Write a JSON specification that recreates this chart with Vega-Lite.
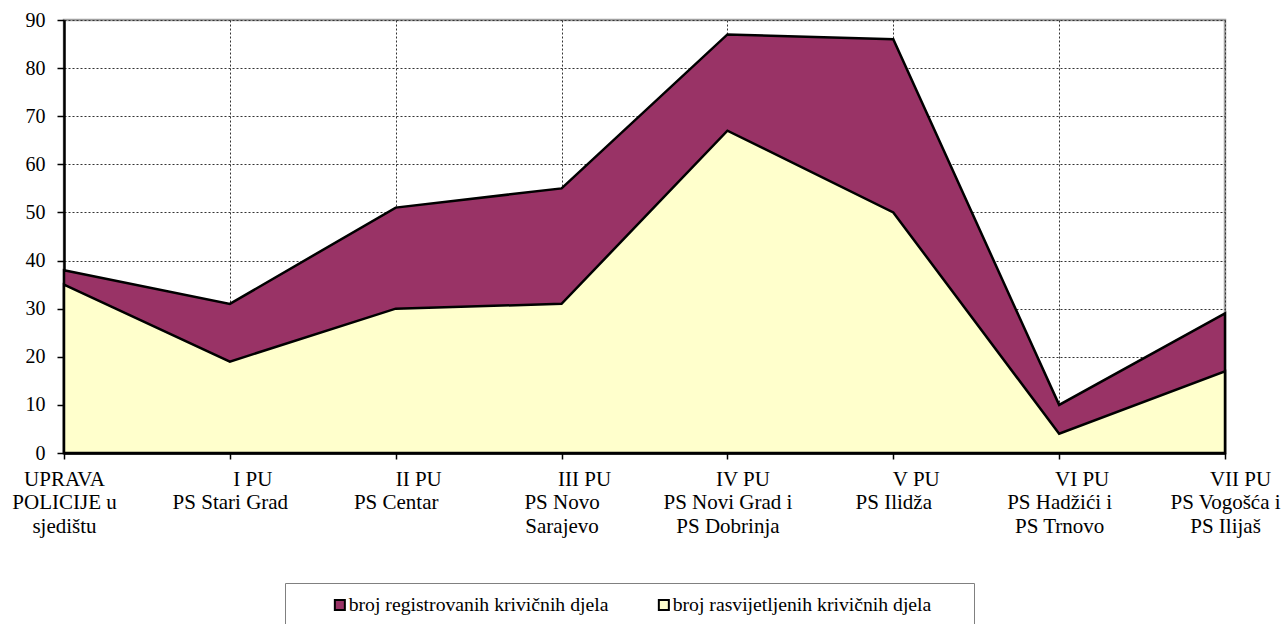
{
  "$schema": "https://vega.github.io/schema/vega-lite/v6.json",
  "width": 1161,
  "height": 433,
  "autosize": {"type": "none"},
  "padding": {"left": 64, "top": 20, "right": 59, "bottom": 171},
  "background": "white",
  "config": {
    "font": "Liberation Serif",
    "view": {"stroke": "#a0a0a0", "strokeWidth": 2.5}
  },
  "data": {
    "values": [
      {"cat": "UPRAVA|POLICIJE u|sjedištu", "registered": 38, "solved": 35},
      {"cat": "\u2800\u2800\u2800I PU|PS Stari Grad", "registered": 31, "solved": 19},
      {"cat": "\u2800\u2800\u2800II PU|PS Centar", "registered": 51, "solved": 30},
      {"cat": "\u2800\u2800\u2800III PU|PS Novo|Sarajevo", "registered": 55, "solved": 31},
      {"cat": "\u2800\u2800IV PU|PS Novi Grad i|PS Dobrinja", "registered": 87, "solved": 67},
      {"cat": "\u2800\u2800\u2800V PU|PS Ilidža", "registered": 86, "solved": 50},
      {"cat": "\u2800\u2800\u2800VI PU|PS Hadžići i|PS Trnovo", "registered": 10, "solved": 4},
      {"cat": "\u2800\u2800VII PU|PS Vogošća i|PS Ilijaš", "registered": 29, "solved": 17}
    ]
  },
  "encoding": {
    "x": {
      "field": "cat",
      "type": "nominal",
      "sort": null,
      "scale": {"type": "point", "padding": 0},
      "axis": {
        "title": null,
        "labelAngle": 0,
        "labelExpr": "split(datum.label, '|')",
        "labelFont": "Liberation Serif",
        "labelFontSize": 21,
        "labelColor": "black",
        "labelLineHeight": 23.5,
        "labelPadding": 9,
        "labelOverlap": false,
        "labelBound": false,
        "labelLimit": 0,
        "tickSize": 6,
        "tickColor": "black",
        "tickWidth": 1.5,
        "domainColor": "black",
        "domainWidth": 2.5,
        "grid": true,
        "gridColor": "#333333",
        "gridDash": [2, 2],
        "gridWidth": 1
      }
    }
  },
  "layer": [
    {
      "mark": {"type": "area", "stroke": "black", "strokeWidth": 2.5, "strokeJoin": "miter", "opacity": 1},
      "encoding": {
        "y": {
          "field": "registered",
          "type": "quantitative",
          "scale": {"domain": [0, 90], "nice": false},
          "axis": {
            "title": null,
            "values": [0, 10, 20, 30, 40, 50, 60, 70, 80, 90],
            "labelFont": "Liberation Serif",
            "labelFontSize": 20,
            "labelColor": "black",
            "labelPadding": 12,
            "tickSize": 7,
            "tickColor": "black",
            "tickWidth": 1.5,
            "domainColor": "black",
            "domainWidth": 2.5,
            "grid": true,
            "gridColor": "#333333",
            "gridDash": [2, 2],
            "gridWidth": 1
          }
        },
        "color": {
          "datum": "broj registrovanih krivičnih djela",
          "type": "nominal",
          "scale": {
            "domain": ["broj registrovanih krivičnih djela", "broj rasvijetljenih krivičnih djela"],
            "range": ["#993366", "#FFFFCC"]
          },
          "legend": {
            "orient": "none",
            "legendX": 221,
            "legendY": 563,
            "direction": "horizontal",
            "title": "\u2800",
            "titleOrient": "left",
            "titleFontSize": 1,
            "titlePadding": 32,
            "padding": 12,
            "strokeColor": "#808080",
            "fillColor": "white",
            "labelFont": "Liberation Serif",
            "labelFontSize": 19.7,
            "labelColor": "black",
            "labelOffset": -1,
            "labelLimit": 0,
            "columnPadding": 45,
            "symbolType": "square",
            "symbolSize": 100,
            "symbolStrokeColor": "black",
            "symbolStrokeWidth": 2,
            "symbolOpacity": 1,
            "labelExpr": "datum.value == 'broj rasvijetljenih krivičnih djela' ? datum.label + '\u2800\u2800' : datum.label"
          }
        }
      }
    },
    {
      "mark": {"type": "area", "stroke": "black", "strokeWidth": 2.5, "strokeJoin": "miter", "opacity": 1},
      "encoding": {
        "y": {"field": "solved", "type": "quantitative"},
        "color": {"datum": "broj rasvijetljenih krivičnih djela", "type": "nominal"}
      }
    }
  ]
}
